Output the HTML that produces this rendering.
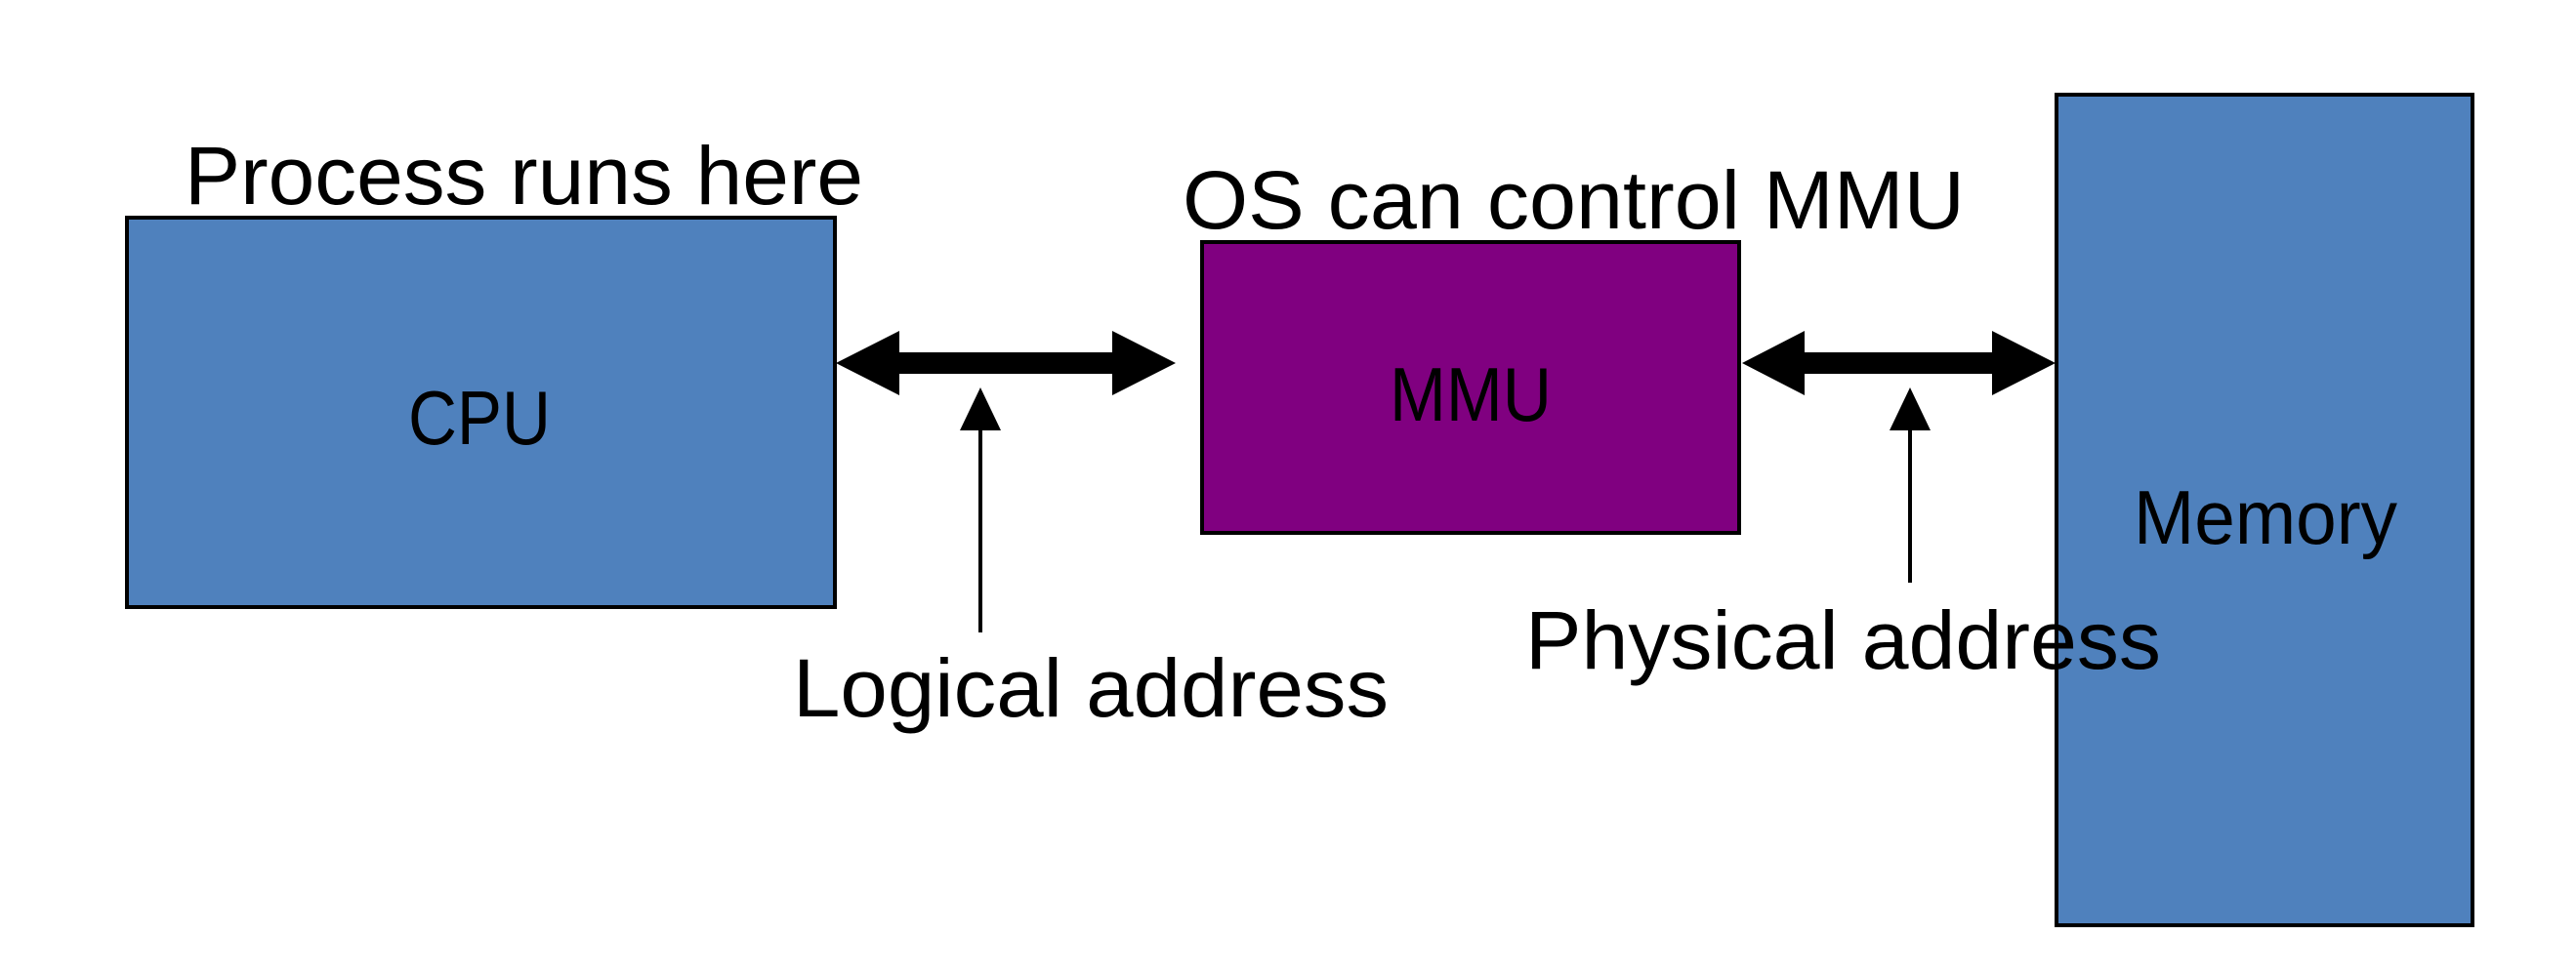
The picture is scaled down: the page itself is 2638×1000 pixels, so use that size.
<!DOCTYPE html>
<html><head><meta charset="utf-8"><style>html,body{margin:0;padding:0;background:#fff}svg{display:block}</style></head>
<body>
<svg width="2638" height="1000" viewBox="0 0 2638 1000" xmlns="http://www.w3.org/2000/svg" font-family="'Liberation Sans', sans-serif" fill="#000">
<rect x="0" y="0" width="2638" height="1000" fill="#fff"/>
<rect x="130" y="223" width="725" height="399" fill="#4F81BD" stroke="#000" stroke-width="4"/>
<rect x="1231" y="248" width="550" height="298" fill="#800080" stroke="#000" stroke-width="4"/>
<rect x="2106" y="97" width="426" height="851" fill="#4F81BD" stroke="#000" stroke-width="4"/>
<polygon points="856,372 921,339 921,361 1139,361 1139,339 1204,372 1139,405 1139,383 921,383 921,405"/>
<polygon points="1784,372 1848,339 1848,361 2040,361 2040,339 2105,372 2040,405 2040,383 1848,383 1848,405"/>
<polygon points="1004,397 983,441 1025,441"/>
<rect x="1002" y="440" width="4" height="208"/>
<polygon points="1956,397 1935,441 1977,441"/>
<rect x="1954" y="440" width="4" height="157"/>
<g font-size="84">
<text x="189" y="209" textLength="695" lengthAdjust="spacingAndGlyphs">Process runs here</text>
<text x="1211" y="234" textLength="801" lengthAdjust="spacingAndGlyphs">OS can control MMU</text>
<text x="812" y="734" textLength="610" lengthAdjust="spacingAndGlyphs">Logical address</text>
<text x="1562" y="685" textLength="651" lengthAdjust="spacingAndGlyphs">Physical address</text>
</g>
<g font-size="78">
<text x="418" y="455" textLength="146" lengthAdjust="spacingAndGlyphs">CPU</text>
<text x="1423" y="431" textLength="166" lengthAdjust="spacingAndGlyphs">MMU</text>
<text x="2185" y="557" textLength="270" lengthAdjust="spacingAndGlyphs">Memory</text>
</g>
</svg>
</body></html>
